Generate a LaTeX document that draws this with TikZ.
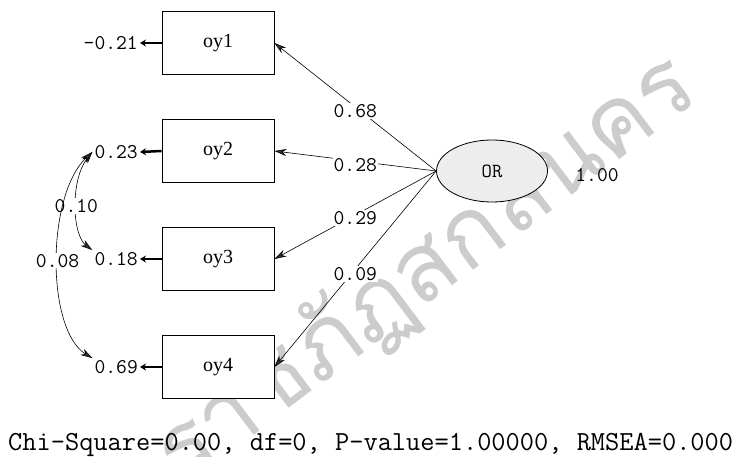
\documentclass[tikz,border=0pt]{standalone}
\usepackage{fontspec}
\setmainfont{Liberation Serif}
\newfontfamily\thaifont[Script=Thai]{Loma}
\usetikzlibrary{arrows.meta,shapes.geometric}
\tikzset{
	obsbox/.style={draw, line width=0.9pt, minimum width=112pt, minimum height=63pt, inner sep=0pt, font=\fontsize{20}{22}\selectfont},
	latvar/.style={draw, ellipse, fill=black!7, line width=0.8pt, minimum width=111pt, minimum height=62pt, inner sep=0pt, font=\ttfamily\fontsize{20}{22}\selectfont},
	numlab/.style={inner sep=2pt, font=\ttfamily\fontsize{21}{22}\selectfont},
	pathlab/.style={numlab, fill=white, inner sep=1pt},
	patharr/.style={line width=0.6pt, -{Stealth[length=12pt,width=7pt,fill=black!80]}},
	errarr/.style={line width=2.5pt, -{Stealth[length=6pt,width=7pt]}},
	covarr/.style={line width=0.6pt, {Stealth[length=12pt,width=7pt,fill=black!80]}-{Stealth[length=12pt,width=7pt,fill=black!80]}}
}

\begin{document}
\begin{tikzpicture}[x=1pt,y=-1pt]
	%%%%% START %%%%%
	\useasboundingbox (0,0) rectangle (751,457);
	
	\node[rotate=37, text=black!20, font=\thaifont\fontsize{95}{95}\selectfont] (mark) at (426,270) {ราชภัฏสกลนคร};
	
	\node[obsbox, fill=white] (oy1) at (218,43) {oy1};
	\node[obsbox, fill=white] (oy2) at (218,151) {oy2};
	\node[obsbox, fill=white] (oy3) at (218,259) {oy3};
	\node[obsbox, fill=white] (oy4) at (218,367) {oy4};
	
	\node[latvar] (OR) at (492,171) {OR};
	\node[numlab] (varOR) at (597,175) {1.00};
	
	\node[numlab, anchor=east] (e1) at (140,43) {-0.21};
	\node[numlab, anchor=east] (e2) at (140,152) {0.23};
	\node[numlab, anchor=east] (e3) at (140,259) {0.18};
	\node[numlab, anchor=east] (e4) at (140,367) {0.69};
	
	\draw[errarr] (oy1.west) -- (e1.east);
	\draw[errarr] (oy2.west) -- (e2.east);
	\draw[errarr] (oy3.west) -- (e3.east);
	\draw[errarr] (oy4.west) -- (e4.east);
	
	\draw[patharr] (OR.west) -- node[pathlab, yshift=-4pt] {0.68} (oy1.east);
	\draw[patharr] (OR.west) -- node[pathlab, yshift=-4pt] {0.28} (oy2.east);
	\draw[patharr] (OR.west) -- node[pathlab, yshift=-3pt] {0.29} (oy3.east);
	\draw[patharr] (OR.west) -- node[pathlab, yshift=-5pt] {0.09} (oy4.east);
	
	\draw[covarr] (e2.west) .. controls (70,180) and (72,235) .. node[pathlab] {0.10} (e3.north west);
	\draw[covarr] (e2.west) .. controls (46,195) and (46,330) .. node[pathlab] {0.08} (e4.north west);
	
	\node[anchor=base west, font=\ttfamily\fontsize{27.6}{28}\selectfont, inner sep=0pt] (fit) at (8,450) {Chi-Square=0.00, df=0, P-value=1.00000, RMSEA=0.000};
	
	%%%%% END %%%%%
\end{tikzpicture}
\end{document}
